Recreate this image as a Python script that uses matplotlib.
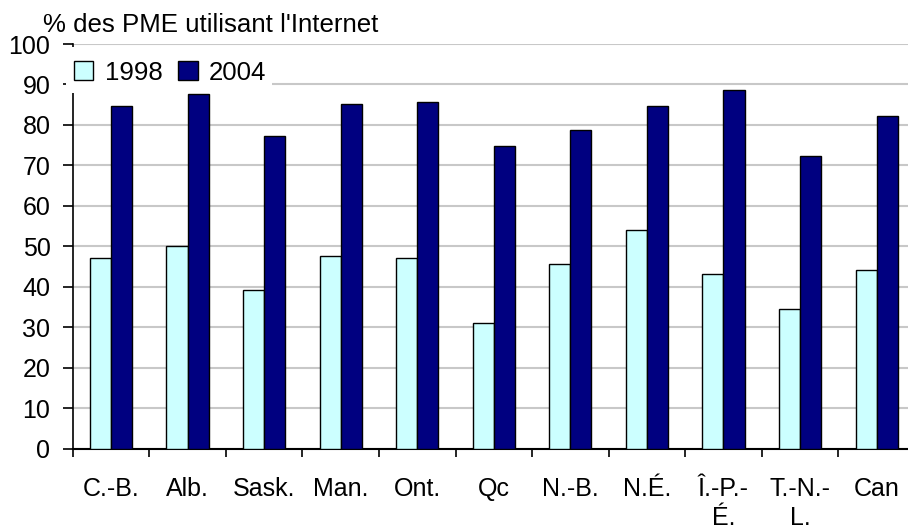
import numpy as np
import matplotlib
matplotlib.use('Agg')
import matplotlib.pyplot as plt
from matplotlib.patches import Rectangle

# Data
regions = ['C.-B.', 'Alb.', 'Sask.', 'Man.', 'Ont.', 'Qc', 'N.-B.', 'N.É.', 'Î.-P.-\nÉ.', 'T.-N.-\nL.', 'Can']
pct_1998 = [47.0, 50.0, 39.2, 47.5, 47.0, 31.0, 45.6, 53.9, 43.1, 34.6, 44.1]
pct_2004 = [84.6, 87.6, 77.2, 85.1, 85.6, 74.7, 78.7, 84.6, 88.6, 72.3, 82.1]

plt.rcParams['font.family'] = ['Liberation Sans', 'DejaVu Sans']
plt.rcParams['font.size'] = 18

W, H = 908, 529
fig = plt.figure(figsize=(W / 100, H / 100), dpi=100)
# axes runs a little past the right edge, like the original
ax = fig.add_axes([72.7 / W, 1 - 448.5 / H, 842.2 / W, (448.5 - 44) / H])

x = np.arange(len(regions))
w = 0.275
ax.bar(x - w / 2, pct_1998, w, color='#CCFFFF', edgecolor='black', linewidth=1, label='1998', zorder=3)
ax.bar(x + w / 2, pct_2004, w, color='#000080', edgecolor='black', linewidth=1, label='2004', zorder=3)

ax.set_xlim(-0.5, len(regions) - 0.5)
ax.set_ylim(0, 100)
ax.set_yticks(np.arange(0, 101, 10))
ax.yaxis.grid(True, color='#c8c8c8', linewidth=1.5, zorder=0)
ax.set_axisbelow(True)

for s in ['top', 'right']:
    ax.spines[s].set_visible(False)
ax.spines['left'].set_linewidth(1.2)
ax.spines['bottom'].set_linewidth(1.5)

# ticks at category boundaries, labels centered under each category
ax.set_xticks(np.arange(-0.5, len(regions), 1))
ax.set_xticklabels([])
ax.tick_params(axis='x', length=6, direction='out', width=1.2)
ax.tick_params(axis='y', length=7, direction='out', width=1.2, pad=9)
for i, lab in enumerate(regions):
    ax.text(i, -7.0, lab, ha='center', va='top', multialignment='center',
            linespacing=1.28, clip_on=False)

fig.text(43 / W, 1 - 32 / H, "% des PME utilisant l'Internet", ha='left', va='baseline',
         fontsize=18.6)

# white box behind the legend, hiding the top of the y axis
fig.patches.append(Rectangle((66 / W, 1 - 93 / H), (272 - 66) / W, (93 - 47) / H,
                             transform=fig.transFigure, facecolor='white',
                             edgecolor='none', zorder=4))

leg = fig.legend(*ax.get_legend_handles_labels(), loc='center left',
                 bbox_to_anchor=(74 / W, 1 - 72.7 / H), ncol=2, frameon=False,
                 handlelength=0.75, handleheight=0.75, handletextpad=0.45,
                 columnspacing=0.6, borderpad=0, borderaxespad=0, fontsize=18.6)
leg.set_zorder(6)

fig.savefig('out.png', dpi=100)
